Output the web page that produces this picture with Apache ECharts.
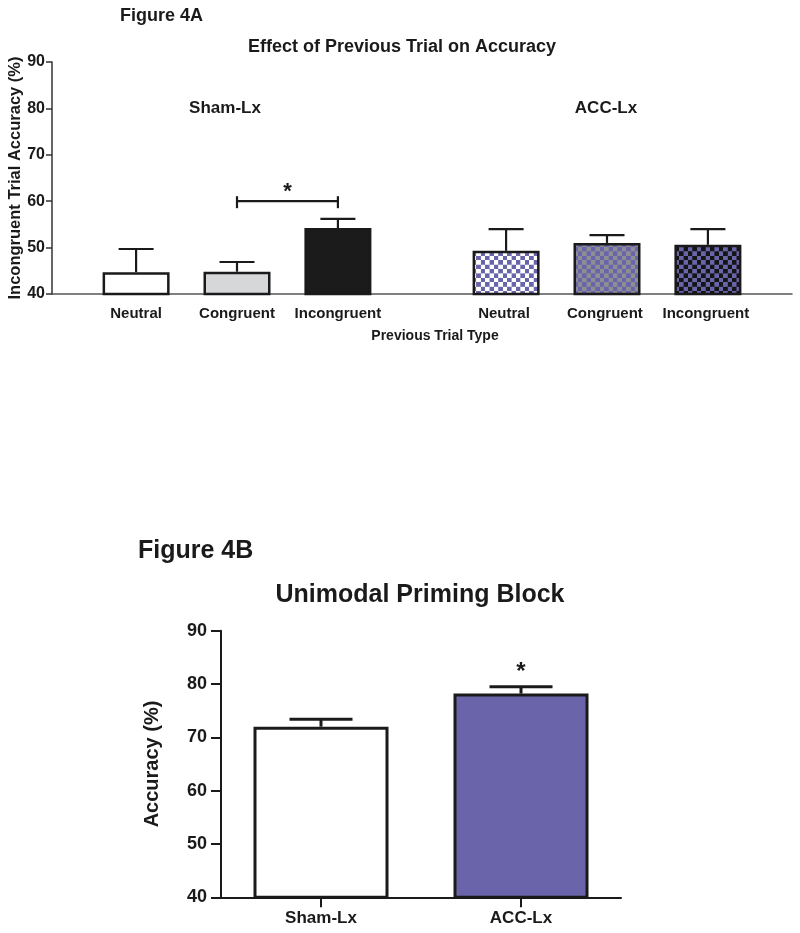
<!DOCTYPE html>
<html>
<head>
<meta charset="utf-8">
<script src="https://cdn.jsdelivr.net/npm/echarts@6/dist/echarts.min.js"></script>
<style>html,body{margin:0;padding:0;background:#fff}#c{width:800px;height:933px}</style>
</head>
<body>
<div id="c"></div>
<script>
// ---- Data (Figure 4A) ----
const trialTypes = ['Neutral', 'Congruent', 'Incongruent'];
const groupNames = ['Sham-Lx', 'ACC-Lx'];
const shamMeans = [44.7, 44.8, 54.2];
const shamSem = [5.0, 2.1, 2.0];
const accMeans = [49.3, 51.0, 50.6];
const accSem = [4.7, 1.7, 3.4];
const yTicksA = [40, 50, 60, 70, 80, 90];
const sigA = { from: 'Congruent', to: 'Incongruent', level: 60, mark: '*' };

// ---- Data (Figure 4B) ----
const blockGroups = ['Sham-Lx', 'ACC-Lx'];
const blockMeans = [72.0, 78.2];
const blockSem = [1.4, 1.3];
const yTicksB = [40, 50, 60, 70, 80, 90];

// ---- Layout (slot positions on the category axis of 4A) ----
const slotCount = 22;
const shamSlots = [2, 5, 8];
const accSlots = [13, 16, 19];

const FONT = 'Liberation Sans, Arial, Helvetica, sans-serif';
const PURPLE = '#6a64aa';

function checker(c1, c2) {
  const cv = document.createElement('canvas');
  cv.width = 18; cv.height = 18;
  const g = cv.getContext('2d');
  g.fillStyle = c1; g.fillRect(0, 0, 18, 18);
  g.fillStyle = c2; g.fillRect(0, 0, 9, 9); g.fillRect(9, 9, 9, 9);
  return { image: cv, repeat: 'repeat', scaleX: 0.49, scaleY: 0.49 };
}

const shamFills = ['#ffffff', '#d5d7d9', '#1b1b1b'];
const accFills = [checker('#ffffff', PURPLE), checker('#8e8e93', PURPLE), checker('#151515', PURPLE)];

// build slot categories
const slotCats = new Array(slotCount).fill('');
shamSlots.forEach((s, i) => slotCats[s] = trialTypes[i]);
accSlots.forEach((s, i) => slotCats[s] = trialTypes[i] + ' ');

const barDataA = new Array(slotCount).fill(null);
const errDataA = [];
shamSlots.forEach((s, i) => {
  barDataA[s] = { value: shamMeans[i], itemStyle: { color: shamFills[i] } };
  errDataA.push([s, shamMeans[i], shamMeans[i] + shamSem[i]]);
});
accSlots.forEach((s, i) => {
  barDataA[s] = { value: accMeans[i], itemStyle: { color: accFills[i] } };
  errDataA.push([s, accMeans[i], accMeans[i] + accSem[i]]);
});
const sigData = [[shamSlots[trialTypes.indexOf(sigA.from)], shamSlots[trialTypes.indexOf(sigA.to)], sigA.level]];

const errDataB = blockMeans.map((m, i) => [i, m, m + blockSem[i]]);

function errRender(capHalf, lw, star) {
  return function (params, api) {
    const x = api.value(0), m = api.value(1), t = api.value(2);
    const p0 = api.coord([x, m]);
    const p1 = api.coord([x, t]);
    const st = { stroke: '#1a1a1a', lineWidth: lw };
    const ch = [
      { type: 'line', shape: { x1: p0[0], y1: p0[1], x2: p1[0], y2: p1[1] }, style: st },
      { type: 'line', shape: { x1: p1[0] - capHalf, y1: p1[1], x2: p1[0] + capHalf, y2: p1[1] }, style: st }
    ];
    if (star && star[params.dataIndex]) {
      ch.push({ type: 'text', style: { text: star[params.dataIndex], x: p1[0], y: p1[1] - 14, align: 'center', verticalAlign: 'middle', font: 'bold 24px ' + FONT, fill: '#1a1a1a' } });
    }
    return { type: 'group', children: ch };
  };
}

const chart = echarts.init(document.getElementById('c'), null, { renderer: 'canvas' });

function txt(text, x, y, size, align) {
  return { type: 'text', x: x, y: y, style: { text: text, font: 'bold ' + size + 'px ' + FONT, fill: '#1a1a1a', align: align || 'center', verticalAlign: 'middle' } };
}

const option = {
  backgroundColor: '#ffffff',
  animation: false,
  graphic: [
    txt('Figure 4A', 120, 16, 18, 'left'),
    txt('Effect of Previous Trial on Accuracy', 402, 47, 18),
    txt(groupNames[0], 225, 108, 17),
    txt(groupNames[1], 606, 108, 17),
    txt('Previous Trial Type', 435, 336, 14),
    txt('Figure 4B', 138, 551, 25, 'left'),
    txt('Unimodal Priming Block', 420, 595, 25)
  ],
  grid: [
    { left: 52, right: 8, top: 62, bottom: 639, outerBoundsMode: 'none', containLabel: false },
    { left: 221, width: 400, top: 630.7, bottom: 35.7, outerBoundsMode: 'none', containLabel: false }
  ],
  xAxis: [
    {
      type: 'category', gridIndex: 0, data: slotCats,
      axisLine: { lineStyle: { color: '#555', width: 1.5 } },
      axisTick: { show: false },
      axisLabel: { interval: 0, margin: 12, fontFamily: FONT, fontWeight: 'bold', fontSize: 15, color: '#1a1a1a' }
    },
    {
      type: 'category', gridIndex: 1, data: blockGroups,
      axisLine: { lineStyle: { color: '#1a1a1a', width: 2 } },
      axisTick: { show: true, alignWithLabel: true, length: 10, inside: false, lineStyle: { color: '#1a1a1a', width: 2 } },
      axisLabel: { margin: 13, fontFamily: FONT, fontWeight: 'bold', fontSize: 17, color: '#1a1a1a' }
    }
  ],
  yAxis: [
    {
      type: 'value', gridIndex: 0, min: yTicksA[0], max: yTicksA[yTicksA.length - 1], interval: 10,
      name: 'Incongruent Trial Accuracy (%)', nameLocation: 'middle', nameGap: 28, nameMoveOverlap: false,
      nameTextStyle: { fontFamily: FONT, fontWeight: 'bold', fontSize: 16.5, color: '#1a1a1a' },
      splitLine: { show: false },
      axisLine: { show: true, lineStyle: { color: '#333', width: 1.5 } },
      axisTick: { show: true, length: 6, lineStyle: { color: '#333', width: 1.5 } },
      axisLabel: { margin: 7, fontFamily: FONT, fontWeight: 'bold', fontSize: 16, color: '#1a1a1a' }
    },
    {
      type: 'value', gridIndex: 1, min: yTicksB[0], max: yTicksB[yTicksB.length - 1], interval: 10,
      name: 'Accuracy (%)', nameLocation: 'middle', nameGap: 59, nameMoveOverlap: false,
      nameTextStyle: { fontFamily: FONT, fontWeight: 'bold', fontSize: 20, color: '#1a1a1a' },
      splitLine: { show: false },
      axisLine: { show: true, lineStyle: { color: '#1a1a1a', width: 2 } },
      axisTick: { show: true, length: 10, lineStyle: { color: '#1a1a1a', width: 2 } },
      axisLabel: { margin: 14, fontFamily: FONT, fontWeight: 'bold', fontSize: 18, color: '#1a1a1a' }
    }
  ],
  series: [
    {
      type: 'bar', xAxisIndex: 0, yAxisIndex: 0, data: barDataA, barWidth: 67,
      itemStyle: { borderColor: '#1a1a1a', borderWidth: 2.5 }
    },
    {
      type: 'custom', xAxisIndex: 0, yAxisIndex: 0, data: errDataA, z: 5,
      renderItem: errRender(17.5, 2.2)
    },
    {
      type: 'custom', xAxisIndex: 0, yAxisIndex: 0, data: sigData, z: 5,
      renderItem: function (params, api) {
        const a = api.coord([api.value(0), api.value(2)]);
        const b = api.coord([api.value(1), api.value(2)]);
        const st = { stroke: '#1a1a1a', lineWidth: 2.2 };
        return { type: 'group', children: [
          { type: 'line', shape: { x1: a[0], y1: a[1], x2: b[0], y2: b[1] }, style: st },
          { type: 'line', shape: { x1: a[0], y1: a[1] - 5, x2: a[0], y2: a[1] + 7 }, style: st },
          { type: 'line', shape: { x1: b[0], y1: b[1] - 5, x2: b[0], y2: b[1] + 7 }, style: st },
          { type: 'text', style: { text: sigA.mark, x: (a[0] + b[0]) / 2, y: a[1] - 9, align: 'center', verticalAlign: 'middle', font: 'bold 22px ' + FONT, fill: '#1a1a1a' } }
        ] };
      }
    },
    {
      type: 'bar', xAxisIndex: 1, yAxisIndex: 1, barWidth: 135,
      data: blockMeans.map((v, i) => ({ value: v, itemStyle: { color: i === 0 ? '#ffffff' : PURPLE } })),
      itemStyle: { borderColor: '#1a1a1a', borderWidth: 3 }
    },
    {
      type: 'custom', xAxisIndex: 1, yAxisIndex: 1, data: errDataB, z: 5,
      renderItem: errRender(31.5, 3, ['', '*'])
    }
  ]
};
chart.setOption(option);
</script>
</body>
</html>
